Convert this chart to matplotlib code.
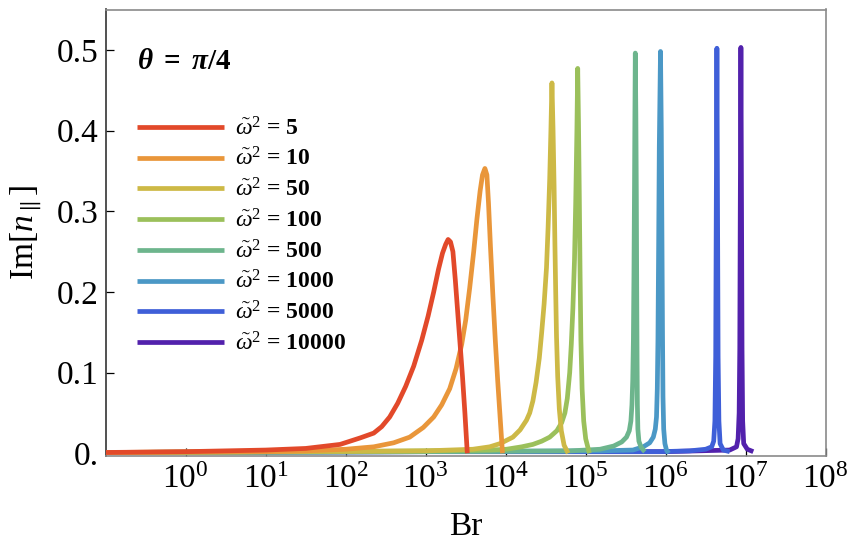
import matplotlib
matplotlib.use("Agg")
import numpy as np
import matplotlib.pyplot as plt
from matplotlib.font_manager import FontProperties

plt.rcParams['font.family'] = ['Liberation Serif', 'DejaVu Serif']
plt.rcParams['mathtext.fontset'] = 'custom'
plt.rcParams['mathtext.rm'] = 'Liberation Serif'
plt.rcParams['mathtext.it'] = 'Liberation Serif:italic'
plt.rcParams['mathtext.bf'] = 'Liberation Serif:bold'
plt.rcParams['mathtext.bfit'] = 'Liberation Serif:italic:bold'

# ---------------- data ----------------
# x values are read as exponents on the log axis: Br = 10**log_br
omega2 = [5, 10, 50, 100, 500, 1000, 5000, 10000]
colors = ['#E2492A', '#E9963A', '#CDB946', '#9BC05B',
          '#6DB58D', '#4B98C6', '#3F5FD8', '#5221AC']

log_br_5 = [-1.0, 0.0, 1.0, 1.5, 1.93, 2.18, 2.35, 2.45, 2.55, 2.65, 2.75, 2.85,
            2.95, 3.03, 3.10, 3.16, 3.21, 3.25, 3.28, 3.31, 3.34, 3.37, 3.40,
            3.43, 3.46, 3.49, 3.52]
im_5 = [0.001, 0.002, 0.004, 0.006, 0.011, 0.019, 0.025, 0.033, 0.045, 0.062,
        0.083, 0.108, 0.14, 0.17, 0.2, 0.228, 0.248, 0.259, 0.265, 0.262, 0.25,
        0.215, 0.175, 0.135, 0.095, 0.05, 0.0]

log_br_10 = [-1.0, 1.0, 1.5, 2.0, 2.35, 2.6, 2.8, 2.97, 3.1, 3.2, 3.3, 3.38,
             3.45, 3.5, 3.55, 3.6, 3.64, 3.68, 3.71, 3.74, 3.765, 3.785, 3.81,
             3.84, 3.87, 3.9, 3.93, 3.96]
im_10 = [0.001, 0.002, 0.003, 0.005, 0.008, 0.013, 0.02, 0.032, 0.045, 0.06,
         0.08, 0.105, 0.135, 0.165, 0.205, 0.25, 0.29, 0.325, 0.345, 0.353,
         0.345, 0.31, 0.255, 0.195, 0.14, 0.09, 0.045, 0.0]

log_br_50 = [-1.0, 1.0, 3.0, 3.59, 3.8, 3.93, 4.09, 4.18, 4.26, 4.3, 4.34, 4.38,
             4.42, 4.45, 4.48, 4.51, 4.53, 4.55, 4.565, 4.578, 4.592, 4.605,
             4.615, 4.625, 4.635, 4.65, 4.67, 4.695, 4.73, 4.78]
im_50 = [0.001, 0.002, 0.003, 0.005, 0.008, 0.012, 0.02, 0.029, 0.041, 0.05,
         0.065, 0.088, 0.118, 0.15, 0.185, 0.23, 0.28, 0.34, 0.4, 0.459, 0.4,
         0.33, 0.26, 0.2, 0.145, 0.095, 0.055, 0.028, 0.01, 0.0]

log_br_100 = [-1.0, 2.0, 3.0, 3.8, 4.01, 4.2, 4.34, 4.45, 4.55, 4.64, 4.7, 4.74,
              4.77, 4.8, 4.82, 4.84, 4.86, 4.875, 4.89, 4.9, 4.91, 4.92, 4.93,
              4.94, 4.955, 4.975, 5.0, 5.046]
im_100 = [0.001, 0.002, 0.003, 0.004, 0.005, 0.008, 0.011, 0.015, 0.02, 0.028,
          0.038, 0.05, 0.068, 0.1, 0.135, 0.18, 0.24, 0.31, 0.4, 0.477, 0.41,
          0.32, 0.22, 0.14, 0.08, 0.04, 0.018, 0.0]

log_br_500 = [-1.0, 3.0, 4.8, 5.0, 5.18, 5.35, 5.45, 5.51, 5.545, 5.565, 5.578,
              5.588, 5.596, 5.603, 5.61, 5.615, 5.62, 5.627, 5.633, 5.638, 5.642,
              5.646, 5.652, 5.665, 5.69, 5.72, 5.74]
im_500 = [0.001, 0.002, 0.003, 0.004, 0.005, 0.009, 0.014, 0.02, 0.028, 0.04,
          0.06, 0.09, 0.14, 0.22, 0.33, 0.42, 0.496, 0.42, 0.32, 0.2, 0.12,
          0.06, 0.03, 0.015, 0.008, 0.004, 0.002]

log_br_1000 = [-1.0, 3.0, 5.18, 5.59, 5.72, 5.8, 5.845, 5.87, 5.885, 5.895,
               5.903, 5.912, 5.92, 5.935, 5.945, 5.953, 5.96, 5.966, 5.975,
               5.99, 6.01, 6.037]
im_1000 = [0.001, 0.002, 0.003, 0.004, 0.008, 0.013, 0.02, 0.03, 0.045, 0.08,
           0.14, 0.26, 0.38, 0.498, 0.4, 0.27, 0.15, 0.07, 0.03, 0.012, 0.004,
           0.0]

log_br_5000 = [-1.0, 3.0, 5.93, 6.3, 6.5, 6.575, 6.6, 6.615, 6.625, 6.632, 6.64,
               6.648, 6.655, 6.665, 6.68, 6.72, 6.8]
im_5000 = [0.001, 0.002, 0.002, 0.003, 0.005, 0.008, 0.015, 0.04, 0.12, 0.3,
           0.502, 0.3, 0.12, 0.04, 0.012, 0.004, 0.002]

log_br_10000 = [-1.0, 3.0, 6.0, 6.8, 6.885, 6.905, 6.918, 6.926, 6.932, 6.94,
                6.948, 6.954, 6.962, 6.975, 7.02, 7.095]
im_10000 = [0.001, 0.002, 0.002, 0.004, 0.008, 0.018, 0.05, 0.13, 0.3, 0.503,
            0.3, 0.13, 0.04, 0.012, 0.005, 0.002]

series_logbr = [log_br_5, log_br_10, log_br_50, log_br_100, log_br_500,
                log_br_1000, log_br_5000, log_br_10000]
series_im = [im_5, im_10, im_50, im_100, im_500, im_1000, im_5000, im_10000]

xticks = [1e0, 1e1, 1e2, 1e3, 1e4, 1e5, 1e6, 1e7, 1e8]
xtick_labels = [r'$10^{%d}$' % k for k in range(0, 9)]
yticks = [0.0, 0.1, 0.2, 0.3, 0.4, 0.5]
ytick_labels = ['0.', '0.1', '0.2', '0.3', '0.4', '0.5']

# ---------------- figure ----------------
W, H = 853, 543
fig = plt.figure(figsize=(W / 100, H / 100), dpi=100)
ax = fig.add_axes([105.7 / W, 1 - 455.7 / H, (825.7 - 105.7) / W, (455.7 - 9.5) / H])

handles = []
n = len(omega2)
for i, (lx, iy, c) in enumerate(zip(series_logbr, series_im, colors)):
    ln, = ax.plot(np.power(10.0, lx), iy, color=c, lw=3.4, zorder=10 + n - i,
                  solid_joinstyle='round', solid_capstyle='butt')
    handles.append(ln)

ax.set_xscale('log')
ax.set_xlim(0.1, 1e8)
ax.set_ylim(-0.003, 0.55)
ax.set_xticks(xticks)
ax.set_xticklabels(xtick_labels)
ax.xaxis.set_minor_locator(matplotlib.ticker.NullLocator())
ax.set_yticks(yticks)
ax.set_yticklabels(ytick_labels)

ax.tick_params(axis='both', which='major', direction='in', length=6, width=0.9,
               labelsize=24, color='black')
ax.tick_params(axis='x', pad=6)
ax.tick_params(axis='y', pad=5)

for side in ['top', 'right', 'bottom']:
    ax.spines[side].set_color('#8a8a8a')
    ax.spines[side].set_linewidth(1.2)
ax.spines['left'].set_color('#333333')
ax.spines['left'].set_linewidth(1.2)

ax.set_xlabel('Br', fontsize=24)
ax.set_ylabel(r'$\mathrm{Im}[n_{\parallel}]$', fontsize=24)
ax.xaxis.set_label_coords(0.5, -0.125)
ax.yaxis.set_label_coords(-0.085, 0.5)

labels = [r'$\tilde{\omega}^2$ = %d' % w for w in omega2]
leg = ax.legend(handles, labels, loc='upper left',
                bbox_to_anchor=(137 / W, 1 - 117 / H), bbox_transform=fig.transFigure,
                frameon=False, borderpad=0, borderaxespad=0,
                handlelength=3.7, handletextpad=0.45, labelspacing=0.32,
                prop=FontProperties(family='Liberation Serif', weight='bold', size=17))
leg.set_zorder(30)

fig.text(137 / W, 1 - 62 / H, r'$\mathbfit{\theta}\ \mathbf{=}\ \mathbfit{\pi}\mathbf{/4}$',
         fontsize=21, va='center', ha='left')

fig.savefig('out.png', dpi=100)
